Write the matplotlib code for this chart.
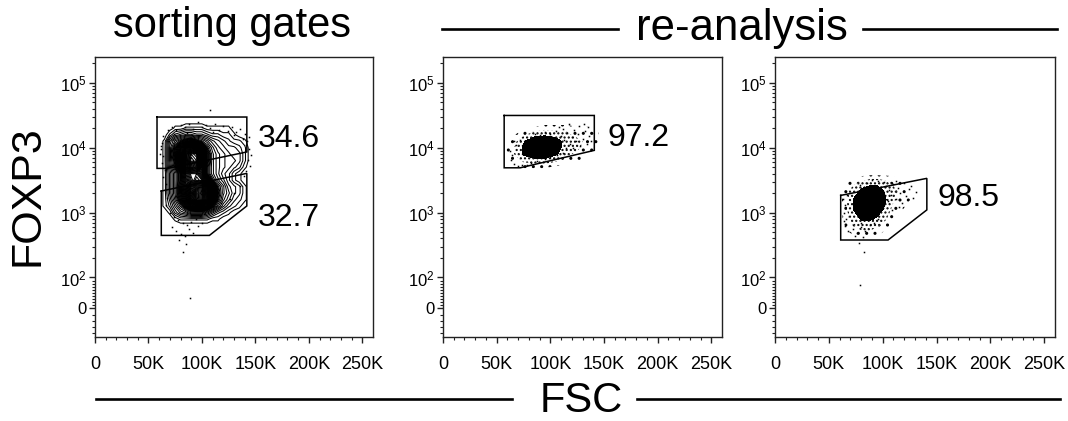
import matplotlib
matplotlib.use("Agg")
import matplotlib.pyplot as plt
from matplotlib.lines import Line2D
from matplotlib.ticker import FixedLocator
import numpy as np

plt.rcParams["font.family"] = ["Liberation Sans", "DejaVu Sans"]
plt.rcParams["mathtext.fontset"] = "custom"
plt.rcParams["mathtext.rm"] = "Liberation Sans"
plt.rcParams["mathtext.it"] = "Liberation Sans:italic"
plt.rcParams["mathtext.bf"] = "Liberation Sans:bold"
plt.rcParams["hatch.color"] = "black"
plt.rcParams["hatch.linewidth"] = 1.0

# axis ticks
x_ticks = [0, 50000, 100000, 150000, 200000, 250000]
x_labels = ["0", "50K", "100K", "150K", "200K", "250K"]
y_ticks = [0, 100, 1000, 10000, 100000]
y_labels = ["0", "$10^2$", "$10^3$", "$10^4$", "$10^5$"]

# gates (FSC in K, FOXP3)
gate1_hi_fsc = [58, 142, 142, 68, 58, 58]
gate1_hi_fox = [29700, 29700, 8600, 4800, 4800, 29700]
gate1_lo_fsc = [62, 142, 142, 107, 62, 62]
gate1_lo_fox = [2150, 4020, 1265, 445, 445, 2150]
gate2_fsc = [57, 141, 141, 72, 57, 57]
gate2_fox = [31400, 31400, 9100, 4900, 4900, 31400]
gate3_fsc = [61, 141, 141, 105, 61, 61]
gate3_fox = [1840, 3370, 1100, 378, 378, 1840]

gate_pct = ["34.6", "32.7", "97.2", "98.5"]

# panel 1: density, top row = highest FOXP3
# (one character per cell, base 36: 0-9 then a-z)
p1_fsc = [60, 65, 70, 75, 80, 85, 90, 95, 100, 105, 110, 115, 120, 125, 130, 135, 140, 145, 150]
p1_fox = [31600, 25100, 20000, 15800, 12600, 10000, 7940, 6310, 5010, 3980, 3160, 2510, 2000,
          1580, 1260, 1000, 794, 631, 501, 398]
p1_map = [
    "0000000000000000000",
    "0000000000000000000",
    "0001122221111100000",
    "0024566554332210000",
    "0169bdeca8654322100",
    "017chmpmhb865443200",
    "017dkrvumd976544200",
    "017cjrwvnd976554200",
    "016bhosrlc976543100",
    "0159djmmjc975421000",
    "0159dilnmhb86421000",
    "0159ejpssnhb8543100",
    "0159ekqvwrkc8643100",
    "0148diossohb7532100",
    "01369dhjjhc85321000",
    "0014679997532100000",
    "0001222222110000000",
    "0000000000000000000",
    "0000000000000000000",
    "0000000000000000000",
]
p1_dots_fsc = [68, 72, 76, 80, 84, 88, 92, 96, 100, 104, 108, 112, 116, 120, 124, 128, 132, 136, 140,
               74, 86, 110, 130, 138, 142, 108,
               64, 63, 62, 64, 63, 65, 64, 66, 65, 67, 66, 62, 61,
               70, 74, 78, 82, 86, 90, 94, 98, 102, 106, 72, 76, 80, 84, 88, 92, 96, 100, 79, 85, 82, 89,
               110, 118,
               141, 144, 146, 143, 145, 141, 139, 136, 130, 126, 144]
p1_dots_fox = [19000, 21000, 18500, 22000, 20500, 23500, 19500, 24500, 21000, 22500, 20000, 23000, 19000,
               21500, 18000, 20500, 17500, 19500, 16500,
               16500, 17000, 17500, 15500, 13500, 12500, 38000,
               15000, 12000, 9500, 7500, 5800, 4500, 3500, 2800, 2200, 1700, 1300, 10500, 8000,
               1000, 850, 780, 700, 640, 720, 800, 880, 950, 1000, 600, 520, 470, 430, 560, 490, 620, 700,
               380, 330, 245, 34,
               1150, 1400,
               11000, 9500, 7800, 6500, 5200, 4300, 3600, 2600, 2000, 1600, 14500]

# panel 2 density
p2_fsc = [55, 65, 75, 85, 95, 105, 115, 125, 135, 145]
p2_fox = [3980, 5010, 6310, 7940, 10000, 12600, 15800, 20000, 25100]
p2_density = [
    [0, 0, 0, 0, 0, 0, 0, 0, 0, 0],
    [0, 0, 1, 1, 1, 0.5, 0, 0, 0, 0],
    [0, 1, 3, 4, 4, 3, 1.5, 1, 0, 0],
    [0, 2, 6, 8, 8, 6, 3, 2, 1, 0],
    [0, 2, 6, 9, 9, 7, 4, 3, 1.5, 0.5],
    [0, 1, 5, 8, 8, 7, 4, 3, 2, 1],
    [0, 0.5, 2, 4, 5, 4, 3, 2, 1.5, 1],
    [0, 0, 0.5, 1, 1.5, 1.5, 1.5, 1, 1, 0.5],
    [0, 0, 0, 0, 0, 0, 0, 0, 0, 0],
]
p2_dots_fsc = [110, 113, 116, 118, 120, 122, 124, 126, 128, 130, 132, 134, 136, 138, 135, 127, 121, 115,
               112, 105, 100, 95, 90, 86, 108, 117, 139, 131,
               62, 64, 63, 66, 70, 74, 78, 68, 66, 72, 82, 88, 95, 100, 106, 112]
p2_dots_fox = [15000, 13000, 17000, 11500, 14500, 19000, 12500, 16000, 10500, 13500, 18000, 11500, 15000,
               12500, 20500, 21500, 9800, 10000, 19500, 18000, 16500, 17500, 15500, 16000, 21000, 23500,
               17000, 23000,
               9000, 7800, 6500, 5600, 5300, 5500, 5400, 11000, 12500, 13000, 5900, 6200, 6800, 7300, 7700,
               8200]

# panel 3 density
p3_fsc = [60, 67, 74, 81, 88, 95, 102, 109, 116, 123, 130]
p3_fox = [398, 562, 794, 1120, 1580, 2240, 3160, 3980]
p3_density = [
    [0, 0, 0.5, 1, 1, 0.5, 0, 0, 0, 0, 0],
    [0, 1, 2, 3, 3, 2, 1, 0.5, 0, 0, 0],
    [0, 2, 4, 6, 6, 5, 3, 1, 0.5, 0, 0],
    [0, 2.5, 6, 8, 9, 7, 5, 2, 1, 0.5, 0],
    [0, 2.5, 6, 8, 9, 8, 6, 3, 2, 1, 0.5],
    [0, 2, 4, 6, 7, 7, 5, 3, 2, 1, 0.5],
    [0, 0.5, 1, 2, 3, 3, 2.5, 2, 1, 0.5, 0],
    [0, 0, 0, 0, 0, 0, 0, 0, 0, 0, 0],
]
p3_dots_fsc = [103, 106, 108, 110, 112, 114, 116, 118, 120, 122, 124, 126, 128, 131, 115, 109, 105, 101,
               96, 90, 85, 79, 112,
               63, 65, 64, 66, 65, 68, 67, 64,
               72, 76, 80, 84, 88, 92, 96, 74, 82, 80, 78, 83, 78.5]
p3_dots_fox = [2600, 2200, 1900, 2800, 1600, 2400, 2000, 1400, 2900, 1800, 2300, 2600, 1700, 2100, 1200,
               1100, 1500, 3000, 3100, 3200, 2900, 2700, 3100,
               1600, 1300, 1000, 800, 620, 520, 1900, 750,
               560, 480, 600, 520, 650, 700, 800, 440, 420, 700, 340, 245, 75]

W, H = 1068, 421
fig = plt.figure(figsize=(W / 100, H / 100), dpi=100)


def box(left, right, top=57, bottom=337):
    return [left / W, (H - bottom) / H, (right - left) / W, (bottom - top) / H]


def k(vals):
    return np.array(vals) * 1000


minor_y = [-80, -60, -40, -20, 10, 20, 30, 40, 50, 60, 70, 80, 90]
for d in [100, 1000, 10000, 100000]:
    minor_y += [m * d for m in range(2, 10) if m * d < 250000]


def setup(ax):
    ax.set_xlim(0, 260000)
    ax.set_yscale("symlog", linthresh=100, linscale=0.43)
    ax.set_ylim(-92, 250000)
    ax.set_xticks(x_ticks)
    ax.set_xticklabels(x_labels, fontsize=13)
    ax.xaxis.set_minor_locator(FixedLocator(np.arange(10000, 260000, 10000)))
    ax.set_yticks(y_ticks)
    ax.set_yticklabels(y_labels, fontsize=12)
    ax.yaxis.set_minor_locator(FixedLocator(minor_y))
    ax.tick_params(which="major", direction="out", length=4, width=1, color="#222222")
    ax.tick_params(which="minor", direction="out", length=2.2, width=0.8, color="#222222")
    ax.tick_params(axis="x", pad=9.5)
    ax.tick_params(axis="y", pad=2)
    for s in ax.spines.values():
        s.set_linewidth(1.0)
        s.set_color("#222222")


def dots(ax, fsc, fox):
    ax.plot(k(fsc), fox, ls="none", marker="s", ms=1.1, mec="none", mfc="black")


def gate(ax, fsc, fox):
    ax.plot(k(fsc), fox, color="black", lw=1.1, solid_joinstyle="miter")


def cloud(ax, fsc, fox, dens):
    ax.contourf(k(fsc), fox, dens, levels=[0.8, 2.5, 5.5, 100],
                colors=["none", "none", "black"], hatches=["..", "....", None])


ax1 = fig.add_axes(box(95, 373))
ax2 = fig.add_axes(box(443, 722))
ax3 = fig.add_axes(box(775, 1055))
for ax in (ax1, ax2, ax3):
    setup(ax)

# panel 1: contours, packed closer together in the dense cores
p1_density = np.array([[int(c, 36) for c in row] for row in p1_map], dtype=float)
p1_levels = np.concatenate([np.arange(0.7, 10, 1.0), np.arange(10.5, 33, 0.5)])
ax1.contour(k(p1_fsc), np.array(p1_fox)[::-1], p1_density[::-1], levels=p1_levels,
            colors="black", linewidths=0.75)
dots(ax1, p1_dots_fsc, p1_dots_fox)
gate(ax1, gate1_hi_fsc, gate1_hi_fox)
gate(ax1, gate1_lo_fsc, gate1_lo_fox)
ax1.text(152000, 10400, gate_pct[0], fontsize=23, va="baseline")
ax1.text(152000, 622, gate_pct[1], fontsize=23, va="baseline")

# panel 2
cloud(ax2, p2_fsc, p2_fox, p2_density)
dots(ax2, p2_dots_fsc, p2_dots_fox)
gate(ax2, gate2_fsc, gate2_fox)
ax2.text(153000, 10600, gate_pct[2], fontsize=23, va="baseline")

# panel 3
cloud(ax3, p3_fsc, p3_fox, p3_density)
dots(ax3, p3_dots_fsc, p3_dots_fox)
gate(ax3, gate3_fsc, gate3_fox)
ax3.text(151000, 1265, gate_pct[3], fontsize=23, va="baseline")

# headers and axis titles
fig.text(232 / W, 1 - 37 / H, "sorting gates", fontsize=30, ha="center", va="baseline")
fig.text(742 / W, 1 - 40 / H, "re-analysis", fontsize=31.5, ha="center", va="baseline")
fig.text(581 / W, 1 - 412 / H, "FSC", fontsize=30, ha="center", va="baseline")
fig.text(28 / W, 1 - 196 / H, "FOXP3", fontsize=31, rotation=90, ha="center", va="center")

for x0, x1, y in [(442, 618, 28.5), (863, 1057, 28.5), (96, 512, 399), (637, 1060, 399)]:
    fig.add_artist(Line2D([x0 / W, x1 / W], [1 - y / H, 1 - y / H], transform=fig.transFigure,
                          color="black", lw=1.9))

fig.savefig("out.png", dpi=100)
